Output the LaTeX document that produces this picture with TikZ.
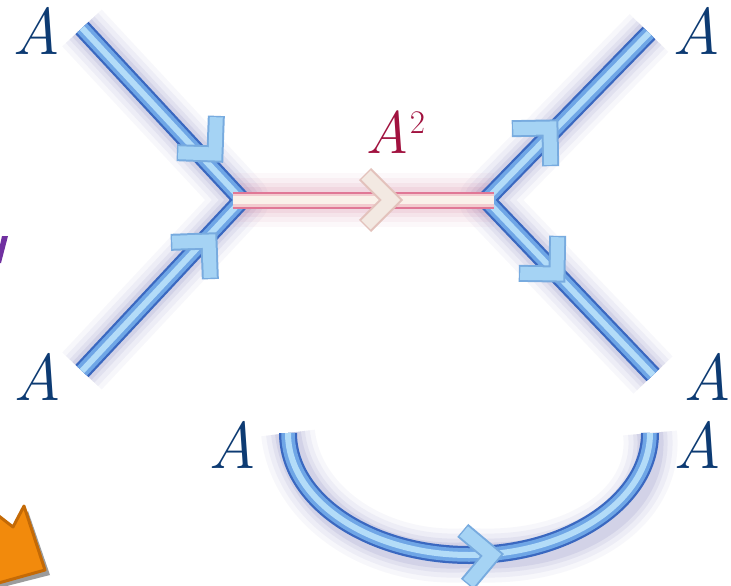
\documentclass[tikz,border=0pt]{standalone}
\definecolor{tubeedge}{HTML}{3A68C0}
\definecolor{tubemid}{HTML}{6FA6E6}
\definecolor{tubelight}{HTML}{B3DCF8}
\definecolor{glowc}{HTML}{5555A8}
\definecolor{pinkedge}{HTML}{E07896}
\definecolor{pinkmid}{HTML}{F3CBCF}
\definecolor{pinklight}{HTML}{FAF1EA}
\definecolor{pinkglow}{HTML}{D06A8C}
\definecolor{chevedgec}{HTML}{78ABDF}
\definecolor{chevfillc}{HTML}{A5D3F4}
\definecolor{pchevedgec}{HTML}{E3C2BC}
\definecolor{pchevfillc}{HTML}{F3E9E2}
\definecolor{labelc}{HTML}{0D3B73}
\definecolor{sqc}{HTML}{A1123F}
\definecolor{purplec}{HTML}{7030A0}
\definecolor{orangef}{HTML}{F28A0C}
\definecolor{orangee}{HTML}{C46A06}
\definecolor{shadowg}{HTML}{9C9C9C}
\newcommand\myglow[2]{%
  \foreach \w/\o in {54/0.045,44/0.06,34/0.08,26/0.1}{%
    \draw[draw=#1, line width=\w pt, opacity=\o, line join=round, shift={(8,7)}] #2;}}
\tikzset{
  tubeA/.style={draw=tubeedge, line width=18pt, line join=miter},
  tubeB/.style={draw=tubemid, line width=13.5pt, line join=miter},
  tubeC/.style={draw=tubelight, line width=6pt, line join=miter},
  pinkA/.style={draw=pinkedge, line width=17pt},
  pinkB/.style={draw=pinkmid, line width=13pt},
  pinkC/.style={draw=pinklight, line width=8pt},
  lab/.style={text=labelc, inner sep=0pt, font=\fontsize{66}{66}\selectfont\itshape},
  bluechev/.pic={
    \draw[draw=chevedgec, line width=17pt, line join=miter] (-27,-27) -- (0,0) -- (-27,27);
    \draw[draw=chevfillc, line width=13pt, line join=miter] (-26,-26) -- (0,0) -- (-26,26);
  },
  pinkchev/.pic={
    \draw[draw=pchevedgec, line width=17pt, line join=miter] (-26,-26) -- (0,0) -- (-26,26);
    \draw[draw=pchevfillc, line width=13pt, line join=miter] (-25,-25) -- (0,0) -- (-25,25);
  }
}
\begin{document}
\begin{tikzpicture}[x=1pt,y=-1pt]
\useasboundingbox (0,0) rectangle (731,586);
\clip (0,0) rectangle (731,586);
\fill[white] (0,0) rectangle (731,586);
% key points
\coordinate (ul) at (82,28);
\coordinate (ll) at (82,371);
\coordinate (vl) at (242,200);
\coordinate (vr) at (486,200);
\coordinate (ur) at (649,33);
\coordinate (lr) at (653,375);
\coordinate (pl) at (233,200);
\coordinate (pr) at (494,200);
\coordinate (al) at (288,433);
\coordinate (ab) at (469,555);
\coordinate (ar) at (650,433);
% glows
\myglow{glowc}{(ul) -- (vl) -- (ll)}
\myglow{glowc}{(ur) -- (vr) -- (lr)}
\myglow{glowc}{(al) .. controls (288,500) and (369,555) .. (ab) .. controls (569,555) and (650,500) .. (ar)}
\myglow{pinkglow}{(pl) -- (pr)}
% blue tubes
\foreach \s in {tubeA,tubeB,tubeC}{
  \draw[\s] (ul) -- (vl) -- (ll);
  \draw[\s] (ur) -- (vr) -- (lr);
  \draw[\s] (al) .. controls (288,500) and (369,555) .. (ab) .. controls (569,555) and (650,500) .. (ar);
}
% pink tube
\draw[pinkA] (pl) -- (pr);
\draw[pinkB] (pl) -- (pr);
\draw[pinkC] (pl) -- (pr);
% chevrons
\pic[rotate=-47] at (215,154) {bluechev};
\pic[rotate=47] at (209,241) {bluechev};
\pic[rotate=46] at (550,128) {bluechev};
\pic[rotate=-46] at (557,274) {bluechev};
\pic[rotate=5] at (492,555) {bluechev};
\pic at (391,200) {pinkchev};
% labels
\node[lab, anchor=base] (aul) at (36,55) {A};
\node[lab, anchor=base] (all) at (37,400) {A};
\node[lab, anchor=base] (aur) at (696,55) {A};
\node[lab, anchor=base] (alr) at (707,400) {A};
\node[lab, anchor=base] (abl) at (232,468) {A};
\node[lab, anchor=base] (abr) at (697,468) {A};
\node[text=sqc, inner sep=0pt, anchor=base west] (asq) at (365,153)
  {{\fontsize{60}{60}\selectfont\itshape A}\kern1pt\raisebox{20pt}{\fontsize{33}{33}\selectfont 2}};
% cropped fragments at the left edge
\fill[purplec] (2,236) -- (8,236) -- (1,263) -- (-4,263) -- cycle;
\fill[shadowg] (-5,518) -- (17,532) -- (28,511) -- (50,575) -- (-5,589) -- cycle;
\draw[draw=orangee, fill=orangef, line width=3pt, line join=round]
  (-5,513) -- (13,527) -- (24,506) -- (45,570) -- (-5,584) -- cycle;
\end{tikzpicture}
\end{document}
